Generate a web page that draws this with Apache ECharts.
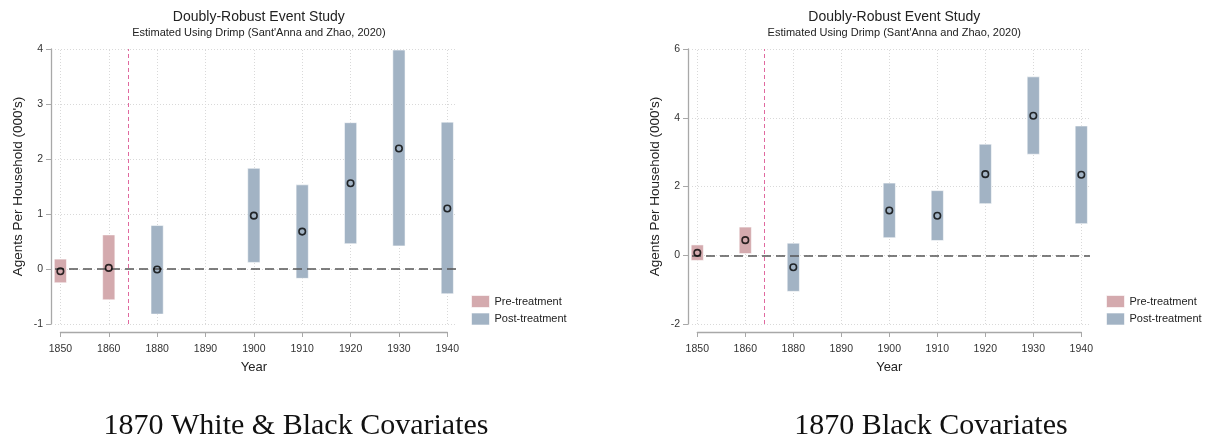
<!DOCTYPE html>
<html>
<head>
<meta charset="utf-8">
<script src="https://cdn.jsdelivr.net/npm/echarts@6/dist/echarts.min.js"></script>
<style>
html,body{margin:0;padding:0;background:#fff;}
#chart{width:1214px;height:440px;}
</style>
</head>
<body>
<div id="chart"></div>
<script>
// ---------- DATA ----------
const years = ['1850','1860','1880','1890','1900','1910','1920','1930','1940'];
const treatIndex = 1.4; // treatment marker between 1860 and 1880

// Panel A: 1870 White & Black Covariates
const aPreIdx  = [0, 1];
const aPreEst  = [-0.04, 0.02];
const aPreLo   = [-0.25, -0.56];
const aPreHi   = [0.18, 0.62];
const aPostIdx = [2, 4, 5, 6, 7, 8];
const aPostEst = [-0.01, 0.97, 0.68, 1.56, 2.19, 1.10];
const aPostLo  = [-0.82, 0.12, -0.17, 0.46, 0.42, -0.45];
const aPostHi  = [0.79, 1.83, 1.53, 2.66, 3.98, 2.67];

// Panel B: 1870 Black Covariates
const bPreIdx  = [0, 1];
const bPreEst  = [0.07, 0.44];
const bPreLo   = [-0.15, 0.05];
const bPreHi   = [0.30, 0.82];
const bPostIdx = [2, 4, 5, 6, 7, 8];
const bPostEst = [-0.35, 1.30, 1.15, 2.36, 4.06, 2.34];
const bPostLo  = [-1.05, 0.51, 0.43, 1.50, 2.94, 0.92];
const bPostHi  = [0.35, 2.10, 1.88, 3.23, 5.19, 3.76];

const titleText = 'Doubly-Robust Event Study';
const subText = "Estimated Using Drimp (Sant'Anna and Zhao, 2020)";
const yName = "Agents Per Household (000's)";
const xName = 'Year';
const captions = ['1870 White & Black Covariates', '1870 Black Covariates'];
const preName = 'Pre-treatment', postName = 'Post-treatment';

// ---------- STYLE / LAYOUT ----------
const PRE = '#d4aaae', POST = '#a2b3c4';
const font = 'Liberation Sans, Arial, sans-serif';
const panels = [
  {c0: 60.4, c8: 447.3, pl: 55, pr: 456, ymin: -1, ymax: 4, yint: 1, cap: 291, legX: 466,
   pre: [aPreIdx, aPreEst, aPreLo, aPreHi], post: [aPostIdx, aPostEst, aPostLo, aPostHi]},
  {c0: 697.3, c8: 1081.3, pl: 692, pr: 1090, ymin: -2, ymax: 6, yint: 2, cap: 926, legX: 1101,
   pre: [bPreIdx, bPreEst, bPreLo, bPreHi], post: [bPostIdx, bPostEst, bPostLo, bPostHi]}
];
const TOP = 49, BOT = 324, W = 1214, H = 440;
const gridLine = {color: '#d9d9d9', type: [1, 2], width: 1};

const grid = [], xAxis = [], yAxis = [], series = [], title = [], legend = [];

function barSeries(name, color, idx, lo, hi, axisIdx) {
  return {
    type: 'custom', name: name, xAxisIndex: axisIdx, yAxisIndex: axisIdx,
    itemStyle: {color: color},
    data: idx.map((x, i) => [x, lo[i], hi[i]]),
    renderItem: function (params, api) {
      const p1 = api.coord([api.value(0), api.value(2)]);
      const p0 = api.coord([api.value(0), api.value(1)]);
      const w = 12.2;
      return {type: 'rect', shape: {x: p1[0] - w / 2, y: p1[1], width: w, height: p0[1] - p1[1]},
              style: {fill: color, stroke: 'rgba(255,255,255,0.55)', lineWidth: 1}};
    },
    z: 3
  };
}
function pointSeries(name, idx, est, axisIdx) {
  return {
    type: 'scatter', name: name, xAxisIndex: axisIdx, yAxisIndex: axisIdx,
    symbol: 'circle', symbolSize: 6.5,
    itemStyle: {color: 'rgba(0,0,0,0)', borderColor: '#000', borderWidth: 1.6},
    data: idx.map((x, i) => [x, est[i]]), z: 8, silent: true
  };
}

panels.forEach((p, k) => {
  const unit = (p.c8 - p.c0) / 8;
  const xmin = -(p.c0 - p.pl) / unit, xmax = 8 + (p.pr - p.c8) / unit;
  const gP = grid.length;
  // plot grid (wide)
  grid.push({left: p.pl, top: TOP, width: p.pr - p.pl, height: BOT - TOP});
  xAxis.push({type: 'value', gridIndex: gP, min: xmin, max: xmax, show: false});
  yAxis.push({
    type: 'value', gridIndex: gP, min: p.ymin, max: p.ymax, interval: p.yint, offset: 4,
    name: yName, nameLocation: 'middle', nameGap: 26,
    nameTextStyle: {fontFamily: font, fontSize: 13.5, color: '#222'},
    axisLine: {show: true, onZero: false, lineStyle: {color: '#a8a8a8', width: 1.3}},
    axisTick: {show: true, length: 5, lineStyle: {color: '#a8a8a8'}},
    axisLabel: {fontFamily: font, fontSize: 10.5, color: '#333', margin: 8},
    splitLine: {show: true, lineStyle: gridLine}
  });
  // axis grid (narrow) for the x axis line
  const gX = grid.length;
  grid.push({left: p.c0, top: TOP, width: p.c8 - p.c0, height: BOT - TOP});
  xAxis.push({
    type: 'value', gridIndex: gX, min: 0, max: 8, interval: 1, offset: 8,
    name: xName, nameLocation: 'middle', nameGap: 29,
    nameTextStyle: {fontFamily: font, fontSize: 13, color: '#222'},
    axisLine: {show: true, onZero: false, lineStyle: {color: '#a8a8a8', width: 1.3}},
    axisTick: {show: true, length: 5, lineStyle: {color: '#a8a8a8'}},
    axisLabel: {fontFamily: font, fontSize: 10.5, color: '#333', margin: 12,
                formatter: v => years[Math.round(v)] || ''},
    splitLine: {show: false}
  });
  yAxis.push({type: 'value', gridIndex: gX, min: p.ymin, max: p.ymax, show: false});

  // vertical gridlines (below bars)
  series.push({
    type: 'line', xAxisIndex: gP, yAxisIndex: gP, data: [], silent: true, z: 1,
    markLine: {
      symbol: 'none', silent: true, label: {show: false}, z: 1,
      data: years.map((y, i) => ({xAxis: i, lineStyle: gridLine}))
    }
  });
  series.push(barSeries(preName, PRE, p.pre[0], p.pre[2], p.pre[3], gP));
  series.push(barSeries(postName, POST, p.post[0], p.post[2], p.post[3], gP));
  // reference lines (above bars)
  series.push({
    type: 'line', xAxisIndex: gP, yAxisIndex: gP, data: [], silent: true, z: 6,
    markLine: {
      symbol: 'none', silent: true, label: {show: false}, z: 6,
      data: [
        {xAxis: treatIndex, lineStyle: {color: '#e0699f', type: [4, 3], width: 1}},
        {yAxis: 0, lineStyle: {color: '#555', type: [9, 5], width: 1.5}}
      ]
    }
  });
  series.push(pointSeries('pre-est-' + k, p.pre[0], p.pre[1], gP));
  series.push(pointSeries('post-est-' + k, p.post[0], p.post[1], gP));

  const cx = (p.c0 + p.c8) / 2;
  title.push({
    text: titleText, subtext: subText, left: cx, top: 5, textAlign: 'center', itemGap: 3,
    textStyle: {fontFamily: font, fontSize: 14, fontWeight: 'normal', color: '#222'},
    subtextStyle: {fontFamily: font, fontSize: 11, color: '#222'}
  });
  title.push({
    text: captions[k], left: p.cap, top: 406, textAlign: 'center',
    textStyle: {fontFamily: 'Liberation Serif, Times New Roman, serif', fontSize: 30, fontWeight: 'normal', color: '#111'}
  });
  legend.push({
    data: [preName, postName], orient: 'vertical', left: p.legX, top: 290,
    itemWidth: 18, itemHeight: 12, itemGap: 4.5, icon: 'rect',
    itemStyle: {borderColor: 'rgba(255,255,255,0.6)', borderWidth: 1},
    textStyle: {fontFamily: font, fontSize: 11, color: '#222'}, selectedMode: false
  });
});

const chart = echarts.init(document.getElementById('chart'), null, {renderer: 'canvas', width: W, height: H});
chart.setOption({animation: false, backgroundColor: '#fff', title, legend, grid, xAxis, yAxis, series});
</script>
</body>
</html>
